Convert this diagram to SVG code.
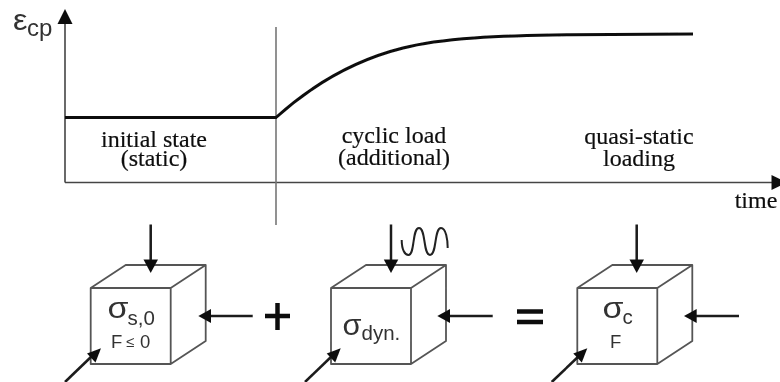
<svg xmlns="http://www.w3.org/2000/svg" width="780" height="382" viewBox="0 0 780 382">
<style>
.ser{font-family:"Liberation Serif",serif;font-size:24px;fill:#111;text-anchor:middle;stroke:#111;stroke-width:.2}
.san{font-family:"Liberation Sans",Arial,sans-serif;fill:#333}
.sig{font-size:29px}.sub{font-size:20.5px}.f{font-size:18.5px}
.cube{fill:none;stroke:#555;stroke-width:1.8;stroke-linejoin:round}
.ax{fill:none;stroke:#444;stroke-width:1.6}
.ar{fill:none;stroke:#1a1a1a;stroke-width:2.5}
.hd{fill:#111}
</style>
<defs>
<filter id="b" x="-5%" y="-5%" width="110%" height="110%"><feGaussianBlur stdDeviation="0.45"/></filter>
<path id="cube" d="M0 0H80V76H0ZM0 0L35 -23H115L80 0M115 -23V53L80 76"/>
</defs>
<rect width="780" height="382" fill="#fff"/>
<g filter="url(#b)">
<g id="axis-labels">
<text class="san" x="13" y="30" font-size="29" textLength="14.500" lengthAdjust="spacingAndGlyphs">ε</text><text class="san" x="27" y="36" font-size="24">cp</text>
<text class="ser" x="756" y="208">time</text>
</g>
<g id="phase-initial"><text class="ser"><tspan x="154" y="147">initial state</tspan><tspan x="154" y="166">(static)</tspan></text></g>
<g id="phase-cyclic"><text class="ser"><tspan x="394" y="143">cyclic load</tspan><tspan x="394" y="165">(additional)</tspan></text></g>
<g id="phase-quasi"><text class="ser"><tspan x="639" y="144">quasi-static</tspan><tspan x="639" y="166">loading</tspan></text></g>
<g id="cube-static">
<use href="#cube" x="90.700" y="288" class="cube"/>
<text class="san sig" x="107.500" y="318" textLength="21" lengthAdjust="spacingAndGlyphs">σ</text><text class="san sub" x="127.500" y="325">s,0</text>
<text class="san f" x="111" y="348">F</text><text class="san" x="126" y="347" font-size="15">≤</text><text class="san f" x="140" y="348">0</text>
</g>
<g id="plus"><path d="M265 316H290M277.500 303V330" fill="none" stroke="#111" stroke-width="4.500"/></g>
<g id="cube-cyclic">
<use href="#cube" x="331" y="288" class="cube"/>
<text class="san sig" x="342.500" y="335" textLength="19" lengthAdjust="spacingAndGlyphs">σ</text><text class="san sub" x="361.500" y="340">dyn.</text>
</g>
<g id="equals"><path d="M517 311.500H543M517 322H543" fill="none" stroke="#111" stroke-width="4.500"/></g>
<g id="cube-quasi">
<use href="#cube" x="577.300" y="288" class="cube"/>
<text class="san sig" x="602.500" y="318" textLength="21" lengthAdjust="spacingAndGlyphs">σ</text><text class="san sub" x="622.500" y="324">c</text>
<text class="san f" x="610" y="348">F</text>
</g>
<g id="connectors">
<path class="ax" d="M65 182.500V20M65 182.500H775"/>
<path class="hd" d="M65 9L72.500 24H57.500Z"/>
<path class="hd" d="M787 182.500L771.500 175V190Z"/>
<path d="M276 27V225" fill="none" stroke="#777" stroke-width="1.6"/>
<path d="M65 117.500H276C312 85 355 60 403 48C440 38 500 35.500 570 34.700C610 34.200 650 34 693 34" fill="none" stroke="#111" stroke-width="3"/>
<path class="ar" d="M150.700 224.500V262"/><path class="hd" d="M150.700 273L143.500 259.500H158Z"/>
<path class="ar" d="M252.700 316H208"/><path class="hd" d="M198.300 316L211 309V323Z"/>
<path class="ar" d="M65 382L93 355"/><path class="hd" d="M101 348.300L87 353.500L95.500 362.500Z"/>
<path class="ar" d="M391 224.500V262"/><path class="hd" d="M391 273L383.800 259.500H398.300Z"/>
<path class="ar" d="M492.700 316H447"/><path class="hd" d="M437.300 316L450 309V323Z"/>
<path class="ar" d="M305 382L333 355"/><path class="hd" d="M340.700 348.300L326.700 353.500L335.200 362.500Z"/>
<path class="ar" d="M636.700 224.500V262"/><path class="hd" d="M636.700 273L629.500 259.500H644Z"/>
<path class="ar" d="M739 316H694"/><path class="hd" d="M684 316L696.700 309V323Z"/>
<path class="ar" d="M551.700 382L580 355"/><path class="hd" d="M587.300 348.300L573.300 353.500L581.800 362.500Z"/>
<path d="M401.700 240C401.700 250 405 255 408.500 255C415 255 412 228 419 228C426 228 423 255 430 255C437 255 434 228 441 228C446 228 447.700 240 447.700 248" fill="none" stroke="#222" stroke-width="2"/>
</g>
</g>
</svg>
